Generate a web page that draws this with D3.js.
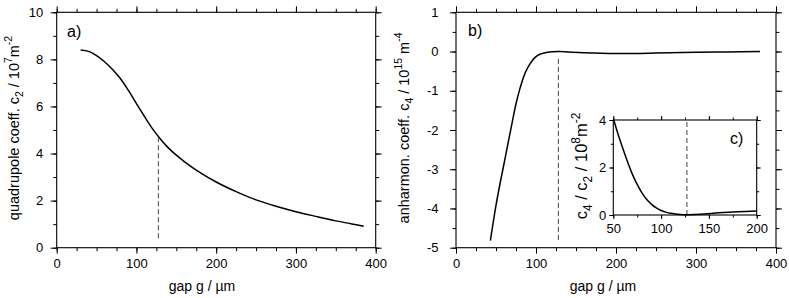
<!DOCTYPE html>
<html>
<head>
<meta charset="utf-8">
<script src="https://cdn.jsdelivr.net/npm/d3@7"></script>
<style>
body { margin: 0; background: #fff; }
svg { font-family: "Liberation Sans", Arial, Helvetica, sans-serif; }
.tick text { font-size: 13px; fill: #000; }
</style>
</head>
<body>
<svg id="chart" width="789" height="298"></svg>
<script>
// panel a: quadrupole coefficient c2 (10^7 m^-2)
var gapA = [30, 40, 50, 60, 70, 80, 90, 100, 110, 120, 130, 140, 150, 160, 175, 200, 225, 250, 275, 300, 325, 350, 370, 385];
var c2 = [8.40, 8.34, 8.16, 7.90, 7.57, 7.18, 6.68, 6.12, 5.58, 5.06, 4.62, 4.24, 3.93, 3.66, 3.30, 2.79, 2.38, 2.03, 1.76, 1.53, 1.33, 1.14, 1.01, 0.91];
// panel b: anharmonic coefficient c4 (10^15 m^-4)
var gapB = [43, 45, 50, 55, 60, 65, 70, 75, 80, 85, 90, 95, 100, 105, 110, 120, 130, 140, 160, 200, 250, 300, 340, 380];
var c4 = [-4.82, -4.55, -3.92, -3.37, -2.86, -2.34, -1.83, -1.33, -0.94, -0.62, -0.40, -0.24, -0.13, -0.07, -0.035, -0.005, 0.0, -0.01, -0.03, -0.05, -0.04, -0.02, -0.01, 0.0];
// inset c: c4 / c2 (10^8 m^-2)
var gapC = [50.5, 55, 60, 65, 70, 75, 80, 85, 90, 95, 100, 105, 110, 115, 120, 127, 135, 145, 160, 180, 200];
var ratio = [4.0, 3.40, 2.80, 2.23, 1.71, 1.29, 0.93, 0.65, 0.45, 0.30, 0.19, 0.12, 0.07, 0.04, 0.02, 0.01, 0.02, 0.04, 0.09, 0.14, 0.17];
// dashed markers: [gap, from, to]
var markA = [127.5, 0.4, 4.65];
var markB = [128, -4.8, -0.17];
var markC = [127, 0, 4];
var xTicks = [0, 100, 200, 300, 400];
var xMinor = d3.range(0, 401, 25);
var yTicksA = [0, 2, 4, 6, 8, 10];
var yMinorA = d3.range(0, 11, 1);
var yTicksB = [-5, -4, -3, -2, -1, 0, 1];
var yMinorB = d3.range(-5, 1.01, 0.5);
var xTicksC = [50, 100, 150, 200];
var xMinorC = d3.range(50, 201, 25);
var yTicksC = [0, 2, 4];
var yMinorC = [0, 1, 2, 3, 4];

var svg = d3.select('#chart');

function richText(sel, parts, size) {
    parts.forEach((p) => {
        let t = sel.append('tspan').text(p[0]);
        if (p[1] == 'sub') {
            t.attr('font-size', size * 0.72).attr('dy', size * 0.3);
        } else if (p[1] == 'sup') {
            t.attr('font-size', size * 0.72).attr('dy', -size * 0.45);
        } else if (p[1] == 'back') {
            t.attr('dy', -size * 0.3);
        } else if (p[1] == 'down') {
            t.attr('dy', size * 0.45);
        }
    });
}

function panel(o) {
    let g = svg.append('g');
    let x = d3.scaleLinear().domain(o.xDom).range(o.xRange);
    let y = d3.scaleLinear().domain(o.yDom).range(o.yRange);
    let big = o.big, small = o.small;
    if (o.fill) {
        g.append('rect').attr('x', o.xRange[0]).attr('y', o.yRange[1])
            .attr('width', o.xRange[1] - o.xRange[0]).attr('height', o.yRange[0] - o.yRange[1])
            .attr('fill', '#fff');
    }
    let noDomain = (a) => a.select('.domain').remove();
    // bottom
    g.append('g').attr('transform', 'translate(0,' + o.yRange[0] + ')')
        .call(d3.axisBottom(x).tickValues(o.xTicks).tickSize(big).tickPadding(o.padX)).call(noDomain);
    g.append('g').attr('transform', 'translate(0,' + o.yRange[0] + ')')
        .call(d3.axisBottom(x).tickValues(o.xMinor).tickSize(small).tickFormat('')).call(noDomain);
    // top
    g.append('g').attr('transform', 'translate(0,' + o.yRange[1] + ')')
        .call(d3.axisTop(x).tickValues(o.xTicks).tickSize(big).tickFormat('')).call(noDomain);
    g.append('g').attr('transform', 'translate(0,' + o.yRange[1] + ')')
        .call(d3.axisTop(x).tickValues(o.xMinor).tickSize(small).tickFormat('')).call(noDomain);
    // left
    g.append('g').attr('transform', 'translate(' + o.xRange[0] + ',0)')
        .call(d3.axisLeft(y).tickValues(o.yTicks).tickSize(big).tickPadding(o.padY).tickFormat((d) => String(d))).call(noDomain);
    g.append('g').attr('transform', 'translate(' + o.xRange[0] + ',0)')
        .call(d3.axisLeft(y).tickValues(o.yMinor).tickSize(small).tickFormat('')).call(noDomain);
    // right
    g.append('g').attr('transform', 'translate(' + o.xRange[1] + ',0)')
        .call(d3.axisRight(y).tickValues(o.yTicks).tickSize(big).tickFormat('')).call(noDomain);
    g.append('g').attr('transform', 'translate(' + o.xRange[1] + ',0)')
        .call(d3.axisRight(y).tickValues(o.yMinor).tickSize(small).tickFormat('')).call(noDomain);
    g.selectAll('.tick line').attr('stroke', '#000');
    g.selectAll('.tick text').attr('font-family', null).attr('font-size', null);

    g.append('rect').attr('x', o.xRange[0]).attr('y', o.yRange[1])
        .attr('width', o.xRange[1] - o.xRange[0]).attr('height', o.yRange[0] - o.yRange[1])
        .attr('fill', 'none').attr('stroke', '#000').attr('stroke-width', 1.1);

    g.append('line')
        .attr('x1', x(o.mark[0])).attr('x2', x(o.mark[0]))
        .attr('y1', y(o.mark[1])).attr('y2', y(o.mark[2]))
        .attr('stroke', '#444').attr('stroke-width', 1).attr('stroke-dasharray', '5,3');

    let line = d3.line().x((d, i) => x(o.gx[i])).y((d) => y(d)).curve(d3.curveCatmullRom.alpha(0.5));
    g.append('path').attr('d', line(o.gy)).attr('fill', 'none')
        .attr('stroke', '#000').attr('stroke-width', 1.5);

    if (o.tag) {
        g.append('text').attr('x', o.tag[1]).attr('y', o.tag[2])
            .attr('font-size', 16).text(o.tag[0]);
    }
    if (o.xTitle) {
        g.append('text').attr('x', o.xTitle[1]).attr('y', o.xTitle[2])
            .attr('text-anchor', 'middle').attr('font-size', 14).text(o.xTitle[0]);
    }
    let yt = g.append('text').attr('text-anchor', 'middle').attr('font-size', o.yTitleSize)
        .attr('transform', 'translate(' + o.yTitlePos[0] + ',' + o.yTitlePos[1] + ') rotate(-90)');
    richText(yt, o.yTitle, o.yTitleSize);
    return g;
}

panel({
    xDom: [0, 400], xRange: [56.7, 375.7], yDom: [0, 10], yRange: [247.7, 12.3],
    xTicks: xTicks, xMinor: xMinor, yTicks: yTicksA, yMinor: yMinorA,
    big: 6, small: 3.5, padX: 5.5, padY: 7.5,
    gx: gapA, gy: c2, mark: markA,
    tag: ['a)', 67, 37],
    xTitle: ['gap g / µm', 202, 291],
    yTitle: [['quadrupole coeff. c'], ['2', 'sub'], [' / 10', 'back'], ['7', 'sup'], ['m', 'down'], ['-2', 'sup']],
    yTitleSize: 14.5, yTitlePos: [18.5, 128]
});

panel({
    xDom: [0, 400], xRange: [456, 776], yDom: [-5, 1], yRange: [247.7, 12.3],
    xTicks: xTicks, xMinor: xMinor, yTicks: yTicksB, yMinor: yMinorB,
    big: 6, small: 3.5, padX: 5.5, padY: 11.5,
    gx: gapB, gy: c4, mark: markB,
    tag: ['b)', 468, 36],
    xTitle: ['gap g / µm', 603, 291],
    yTitle: [['anharmon. coeff. c'], ['4', 'sub'], [' / 10', 'back'], ['15', 'sup'], [' m', 'down'], ['-4', 'sup']],
    yTitleSize: 14.5, yTitlePos: [409, 128]
});

panel({
    xDom: [50, 200], xRange: [613.3, 756.7], yDom: [0, 4], yRange: [215, 120],
    xTicks: xTicksC, xMinor: xMinorC, yTicks: yTicksC, yMinor: yMinorC,
    big: 4, small: 2.5, padX: 4.5, padY: 3,
    gx: gapC, gy: ratio, mark: markC, fill: true,
    tag: ['c)', 730, 144],
    yTitle: [['c'], ['4', 'sub'], [' / c', 'back'], ['2', 'sub'], ['  / 10', 'back'], ['8', 'sup'], ['m', 'down'], ['-2', 'sup']],
    yTitleSize: 16.5, yTitlePos: [587, 166]
});
</script>
</body>
</html>
